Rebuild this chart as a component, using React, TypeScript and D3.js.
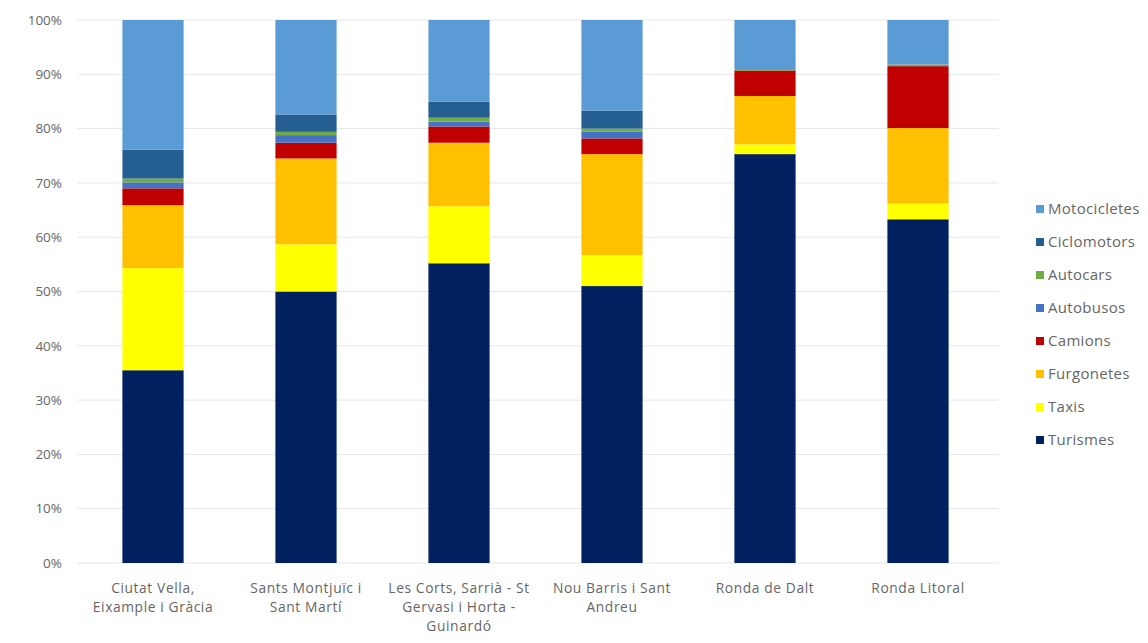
import React from "react";
import * as d3 from "d3";

// Districts / roads (line breaks mark where each axis label wraps)
const categories = [
  "Ciutat Vella,\nEixample i Gràcia",
  "Sants Montjuïc i\nSant Martí",
  "Les Corts, Sarrià - St\nGervasi i Horta -\nGuinardó",
  "Nou Barris i Sant\nAndreu",
  "Ronda de Dalt",
  "Ronda Litoral",
];

// Vehicle types, stacked bottom to top
const seriesNames = [
  "Turismes",
  "Taxis",
  "Furgonetes",
  "Camions",
  "Autobusos",
  "Autocars",
  "Ciclomotors",
  "Motocicletes",
];

// Share (%) of each vehicle type per category
const turismes = [35.5, 50.0, 55.2, 51.0, 75.3, 63.3];
const taxis = [18.8, 8.7, 10.5, 5.7, 1.8, 2.9];
const furgonetes = [11.6, 15.8, 11.7, 18.6, 8.9, 13.9];
const camions = [3.1, 2.9, 3.0, 2.9, 4.7, 11.4];
const autobusos = [1.1, 1.4, 0.9, 1.2, 0.0, 0.0];
const autocars = [0.7, 0.6, 0.7, 0.6, 0.1, 0.3];
const ciclomotors = [5.3, 3.2, 3.0, 3.3, 0.0, 0.0];
const motocicletes = [23.9, 17.4, 15.0, 16.7, 9.2, 8.2];

const yTicks = [0, 0.1, 0.2, 0.3, 0.4, 0.5, 0.6, 0.7, 0.8, 0.9, 1.0];

const colors: Record<string, string> = {
  Turismes: "#002060",
  Taxis: "#FFFF00",
  Furgonetes: "#FFC000",
  Camions: "#C00000",
  Autobusos: "#4472C4",
  Autocars: "#70AD47",
  Ciclomotors: "#255E91",
  Motocicletes: "#5B9BD5",
};

const values = [turismes, taxis, furgonetes, camions, autobusos, autocars, ciclomotors, motocicletes];

const rows = categories.map((c, i) => {
  const r: Record<string, any> = { category: c };
  seriesNames.forEach((s, k) => (r[s] = values[k][i]));
  return r;
});

const W = 1148;
const H = 643;
const plot = { left: 76.5, right: 994.5, top: 20, bottom: 563 };
const FONT = "'Open Sans', 'Noto Sans', sans-serif";
const TEXT = "#666666";

export default function App() {
  const x = d3
    .scaleBand<string>()
    .domain(categories)
    .range([plot.left, plot.right])
    .paddingInner(0.6)
    .paddingOuter(0.3);
  const y = d3.scaleLinear().domain([0, 1]).range([plot.bottom, plot.top]);

  const stacked = d3
    .stack<Record<string, any>>()
    .keys(seriesNames)
    .offset(d3.stackOffsetExpand)(rows);

  const legendOrder = [...seriesNames].reverse();
  const pct = d3.format(".0%");

  return (
    <div style={{ position: "fixed", left: 0, top: 0 }}>
      <svg width={W} height={H} style={{ display: "block", background: "#fff" }}>
        {yTicks.map((t) => (
          <g key={t}>
            <line
              x1={plot.left + 1}
              x2={plot.right + 4}
              y1={y(t)}
              y2={y(t)}
              stroke="#E6E6E6"
              strokeWidth={1}
            />
            <text
              x={62}
              y={y(t)}
              dy="0.35em"
              textAnchor="end"
              fontFamily={FONT}
              fontSize={13.5}
              fill={TEXT}
            >
              {pct(t)}
            </text>
          </g>
        ))}

        {stacked.map((layer) => (
          <g key={layer.key} fill={colors[layer.key]}>
            {layer.map((d, i) => (
              <rect
                key={i}
                x={x(d.data.category)}
                width={x.bandwidth()}
                y={y(d[1])}
                height={Math.max(0, y(d[0]) - y(d[1]))}
              />
            ))}
          </g>
        ))}

        {categories.map((c) =>
          c.split("\n").map((line, j) => (
            <text
              key={c + j}
              x={(x(c) ?? 0) + x.bandwidth() / 2}
              y={593 + j * 19}
              textAnchor="middle"
              fontFamily={FONT}
              fontSize={13.8}
              letterSpacing={0.6}
              fill={TEXT}
            >
              {line}
            </text>
          ))
        )}

        {legendOrder.map((s, i) => (
          <g key={s} transform={`translate(1036, ${209 + i * 33})`}>
            <rect x={0} y={-4} width={8} height={8} fill={colors[s]} />
            <text
              x={12}
              y={0}
              dy="0.35em"
              fontFamily={FONT}
              fontSize={15}
              letterSpacing={0.3}
              fill={TEXT}
            >
              {s}
            </text>
          </g>
        ))}
      </svg>
    </div>
  );
}
